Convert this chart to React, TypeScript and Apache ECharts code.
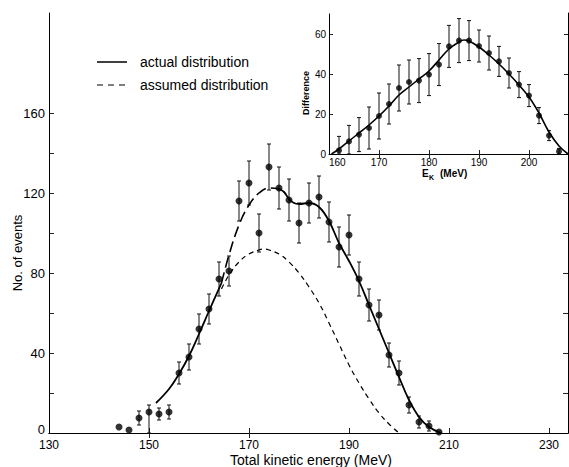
import React, { useEffect, useRef } from "react";
import * as echarts from "echarts";

// Main plot: measured points (Total kinetic energy, MeV) and No. of events
const mainX = [144, 146, 148, 150, 152, 154, 156, 158, 160, 162, 164, 166, 168, 170, 172, 174, 176, 178, 180, 182, 184, 186, 188, 190, 192, 194, 196, 198, 200, 202, 204, 206, 208];
const mainY = [3, 1.5, 7.5, 10.5, 9.5, 10.5, 30, 38, 52, 62, 77, 81, 116, 125, 100, 133, 122.5, 116.5, 105, 115, 118, 105.5, 93, 99, 77, 64, 59, 39, 30, 14, 5.5, 3.5, 0.5];
const mainErrLo = [0, 0, 3.5, 10.5, 3, 3.5, 5.5, 6.5, 7.5, 7.5, 8.5, 7.5, 10, 11, 9.5, 11.5, 10.5, 10.5, 10, 10, 10.5, 10, 10, 10, 8.5, 8, 7.5, 6, 6, 4, 3, 2.5, 0];
const mainErrHi = [0, 0, 3.5, 3.5, 3, 3.5, 5.5, 6.5, 7.5, 7.5, 8.5, 7.5, 10, 11, 9.5, 11.5, 10.5, 10.5, 10, 10, 10.5, 10, 10, 10, 8.5, 8, 7.5, 6, 6, 4, 3, 2.5, 0];

// Actual distribution (solid / long-dashed / solid parts)
const actualAX = [151.4, 154, 156, 158, 160, 162, 164.5];
const actualAY = [15, 22, 29.5, 38.5, 49.5, 61, 75];
const actualBX = [164.5, 166, 168, 170, 172, 174, 176];
const actualBY = [75, 89, 104, 114, 120, 122.5, 122];
const actualCX = [176, 177, 178, 179, 180, 182, 184, 186, 188, 190, 192, 194, 196, 198, 200, 202, 204, 206, 208.5];
const actualCY = [122, 120.5, 117, 115, 114.5, 115, 113, 106, 95, 86, 76, 64, 52, 40, 28, 16.5, 8, 3, 0];

// Assumed distribution
const assumedX = [164.5, 166, 168, 170, 172, 173, 174, 176, 178, 180, 182, 184, 186, 188, 190, 192, 194, 196, 198, 200];
const assumedY = [72, 79, 85.5, 89.5, 91.5, 92, 91.5, 89.5, 85.5, 80, 73, 65, 55, 44.5, 34, 25, 17, 10, 4.5, 0];

// Inset: Difference vs E_K
const insetX = [162, 164, 166, 168, 170, 172, 174, 176, 178, 180, 182, 184, 186, 188, 190, 192, 194, 196, 198, 200, 202, 204, 206];
const insetY = [1.8, 6.3, 9.7, 13, 19, 25, 33, 36, 36.7, 39.7, 44.7, 53.8, 56.7, 56.7, 54, 50.5, 46.3, 40.5, 34.7, 29.2, 19.2, 9.2, 1.3];
const insetErrLo = [1.8, 6.3, 8.5, 10.5, 11.5, 10, 11.5, 11, 11, 10.5, 10.5, 10.5, 11, 10, 8, 8.5, 7.5, 7.5, 6.5, 5.5, 4, 2.5, 1.3];
const insetErrHi = [7, 8, 8.5, 10.5, 11.5, 10, 11.5, 11, 11, 10.5, 10.5, 10.5, 11, 10, 8, 8.5, 7.5, 7.5, 6.5, 5.5, 4, 2.5, 1.5];
const insetCurveX = [160.5, 162, 164, 166, 168, 170, 172, 174, 176, 178, 180, 182, 184, 186, 187, 188, 190, 192, 194, 196, 198, 200, 202, 204, 206, 207.8];
const insetCurveY = [0, 2.5, 6.5, 10.5, 14.5, 19, 24, 29.5, 33.5, 37.5, 41.5, 47, 52.5, 56, 57, 56.5, 53.5, 49.5, 45, 40, 34.5, 28.5, 20.5, 11, 4, 0];

// Tick labels
const mainXLabels = [130, 150, 170, 190, 210, 230];
const mainYLabels = [40, 80, 120, 160];
const mainYZeroLabel = "0";
const insetXLabels = [160, 170, 180, 190, 200];
const insetYLabels = [0, 20, 40, 60];

const FONT = "Liberation Sans";
const zip = (xs: number[], ys: number[]) => xs.map((x, i) => [x, ys[i]]);

const errRender = (params: any, api: any) => {
  const x = api.value(0);
  const y = api.value(1);
  const lo = api.value(2);
  const hi = api.value(3);
  if (!lo && !hi) return null;
  const t = api.coord([x, y + hi]);
  const b = api.coord([x, y - lo]);
  const c = 2;
  const st = { stroke: "#111", lineWidth: 1 };
  return {
    type: "group",
    children: [
      { type: "line", shape: { x1: t[0], y1: t[1], x2: b[0], y2: b[1] }, style: st },
      { type: "line", shape: { x1: t[0] - c, y1: t[1], x2: t[0] + c, y2: t[1] }, style: st },
      { type: "line", shape: { x1: b[0] - c, y1: b[1], x2: b[0] + c, y2: b[1] }, style: st },
    ],
  };
};

const axLine = { show: true, lineStyle: { color: "#000", width: 1 } };
const tick = (vals: number[], len = 5) => ({
  show: true,
  inside: true,
  length: len,
  customValues: vals,
  lineStyle: { color: "#222", width: 1 },
});

export default function App() {
  const ref = useRef<HTMLDivElement>(null);
  useEffect(() => {
    const chart = echarts.init(ref.current!, null, { renderer: "svg" });
    const option: any = {
      animation: false,
      backgroundColor: "#fff",
      grid: [
        { left: 49, top: 13, width: 519, height: 420 },
        { left: 329, top: 14, width: 239, height: 140, show: true, backgroundColor: "#fff", borderWidth: 0 },
      ],
      xAxis: [
        {
          gridIndex: 0, type: "value", min: 130, max: 233.8, interval: 20, position: "bottom",
          axisLine: axLine, axisTick: tick([150, 170, 190, 210, 230]), splitLine: { show: false },
          axisLabel: { customValues: mainXLabels, color: "#000", fontFamily: FONT, fontSize: 12, margin: 6 },
        },
        {
          gridIndex: 0, type: "value", min: 130, max: 233.8, interval: 20, position: "top",
          axisLine: axLine, axisTick: tick([150, 170]), splitLine: { show: false }, axisLabel: { show: false },
        },
        {
          gridIndex: 1, type: "value", min: 160, max: 207.8, interval: 10, position: "bottom",
          axisLine: axLine, axisTick: tick([170, 180, 190, 200], 4), splitLine: { show: false },
          axisLabel: { customValues: insetXLabels, color: "#000", fontFamily: FONT, fontSize: 10, margin: 3, alignMinLabel: "left" },
        },
        {
          gridIndex: 1, type: "value", min: 160, max: 207.8, interval: 10, position: "top",
          axisLine: { show: false }, axisTick: tick([170, 180, 190, 200], 4), splitLine: { show: false }, axisLabel: { show: false },
        },
      ],
      yAxis: [
        {
          gridIndex: 0, type: "value", min: 0, max: 210, interval: 20, position: "left",
          axisLine: axLine, axisTick: tick([20, 40, 60, 80, 100, 120, 140, 160]), splitLine: { show: false },
          axisLabel: { customValues: mainYLabels, color: "#000", fontFamily: FONT, fontSize: 13, margin: 4 },
        },
        {
          gridIndex: 0, type: "value", min: 0, max: 210, interval: 20, position: "right",
          axisLine: axLine, axisTick: tick([20, 40, 60, 80, 100, 120]), splitLine: { show: false }, axisLabel: { show: false },
        },
        {
          gridIndex: 1, type: "value", min: 0, max: 70, interval: 20, position: "left",
          axisLine: axLine, axisTick: tick([20, 40, 60], 4), splitLine: { show: false },
          axisLabel: { customValues: insetYLabels, color: "#000", fontFamily: FONT, fontSize: 10, margin: 3 },
        },
        {
          gridIndex: 1, type: "value", min: 0, max: 70, interval: 20, position: "right",
          axisLine: { show: false }, axisTick: tick([20, 40, 60], 4), splitLine: { show: false }, axisLabel: { show: false },
        },
      ],
      series: [
        {
          type: "custom", xAxisIndex: 0, yAxisIndex: 0, renderItem: errRender,
          encode: { x: 0, y: 1 },
          data: mainX.map((x, i) => [x, mainY[i], mainErrLo[i], mainErrHi[i]]),
          z: 3,
        },
        {
          type: "scatter", xAxisIndex: 0, yAxisIndex: 0, symbol: "circle", symbolSize: 7,
          itemStyle: { color: "#000" }, data: zip(mainX, mainY), z: 4,
        },
        {
          type: "line", xAxisIndex: 0, yAxisIndex: 0, smooth: 0.4, showSymbol: false,
          lineStyle: { color: "#000", width: 1.8 }, data: zip(actualAX, actualAY),
        },
        {
          type: "line", xAxisIndex: 0, yAxisIndex: 0, smooth: 0.4, showSymbol: false,
          lineStyle: { color: "#000", width: 1.6, type: [11, 5] }, data: zip(actualBX, actualBY),
        },
        {
          type: "line", xAxisIndex: 0, yAxisIndex: 0, smooth: 0.4, showSymbol: false,
          lineStyle: { color: "#000", width: 1.8 }, data: zip(actualCX, actualCY),
        },
        {
          type: "line", xAxisIndex: 0, yAxisIndex: 0, smooth: 0.4, showSymbol: false,
          lineStyle: { color: "#000", width: 1.2, type: [5, 4] }, data: zip(assumedX, assumedY),
        },
        {
          type: "custom", xAxisIndex: 2, yAxisIndex: 2, renderItem: errRender,
          encode: { x: 0, y: 1 },
          data: insetX.map((x, i) => [x, insetY[i], insetErrLo[i], insetErrHi[i]]),
          z: 3,
        },
        {
          type: "scatter", xAxisIndex: 2, yAxisIndex: 2, symbol: "circle", symbolSize: 6,
          itemStyle: { color: "#000" }, data: zip(insetX, insetY), z: 4,
        },
        {
          type: "line", xAxisIndex: 2, yAxisIndex: 2, smooth: 0.4, showSymbol: false,
          lineStyle: { color: "#000", width: 1.6 }, data: zip(insetCurveX, insetCurveY),
        },
      ],
      graphic: [
        { type: "line", shape: { x1: 97, y1: 62, x2: 127, y2: 62 }, style: { stroke: "#000", lineWidth: 1.5 } },
        { type: "line", shape: { x1: 97, y1: 85, x2: 127, y2: 85 }, style: { stroke: "#000", lineWidth: 1.2, lineDash: [6, 5] } },
        { type: "text", x: 140, y: 62, style: { text: "actual distribution", fill: "#000", fontFamily: FONT, fontSize: 14, align: "left", verticalAlign: "middle" } },
        { type: "text", x: 140, y: 85, style: { text: "assumed distribution", fill: "#000", fontFamily: FONT, fontSize: 14, align: "left", verticalAlign: "middle" } },
        { type: "text", x: 45, y: 436, style: { text: mainYZeroLabel, fill: "#000", fontFamily: FONT, fontSize: 13, align: "right", verticalAlign: "bottom" } },
        { type: "text", x: 311, y: 460, style: { text: "Total kinetic energy (MeV)", fill: "#000", fontFamily: FONT, fontSize: 14, align: "center", verticalAlign: "middle" } },
        { type: "text", x: 17, y: 253, rotation: Math.PI / 2, style: { text: "No. of events", fill: "#000", fontFamily: FONT, fontSize: 13, align: "center", verticalAlign: "middle" } },
        { type: "text", x: 306, y: 93, rotation: Math.PI / 2, style: { text: "Difference", fill: "#000", fontFamily: FONT, fontSize: 9, fontWeight: "bold", align: "center", verticalAlign: "middle" } },
        { type: "text", x: 422, y: 173, style: { text: "E", fill: "#000", fontFamily: FONT, fontSize: 10, fontWeight: "bold", align: "left", verticalAlign: "middle" } },
        { type: "text", x: 429, y: 177, style: { text: "K", fill: "#000", fontFamily: FONT, fontSize: 7, fontWeight: "bold", align: "left", verticalAlign: "middle" } },
        { type: "text", x: 440, y: 173, style: { text: "(MeV)", fill: "#000", fontFamily: FONT, fontSize: 10, fontWeight: "bold", align: "left", verticalAlign: "middle" } },
      ],
    };
    chart.setOption(option);
    return () => chart.dispose();
  }, []);
  return <div ref={ref} style={{ position: "fixed", left: 0, top: 0, width: 569, height: 467, background: "#fff" }} />;
}
